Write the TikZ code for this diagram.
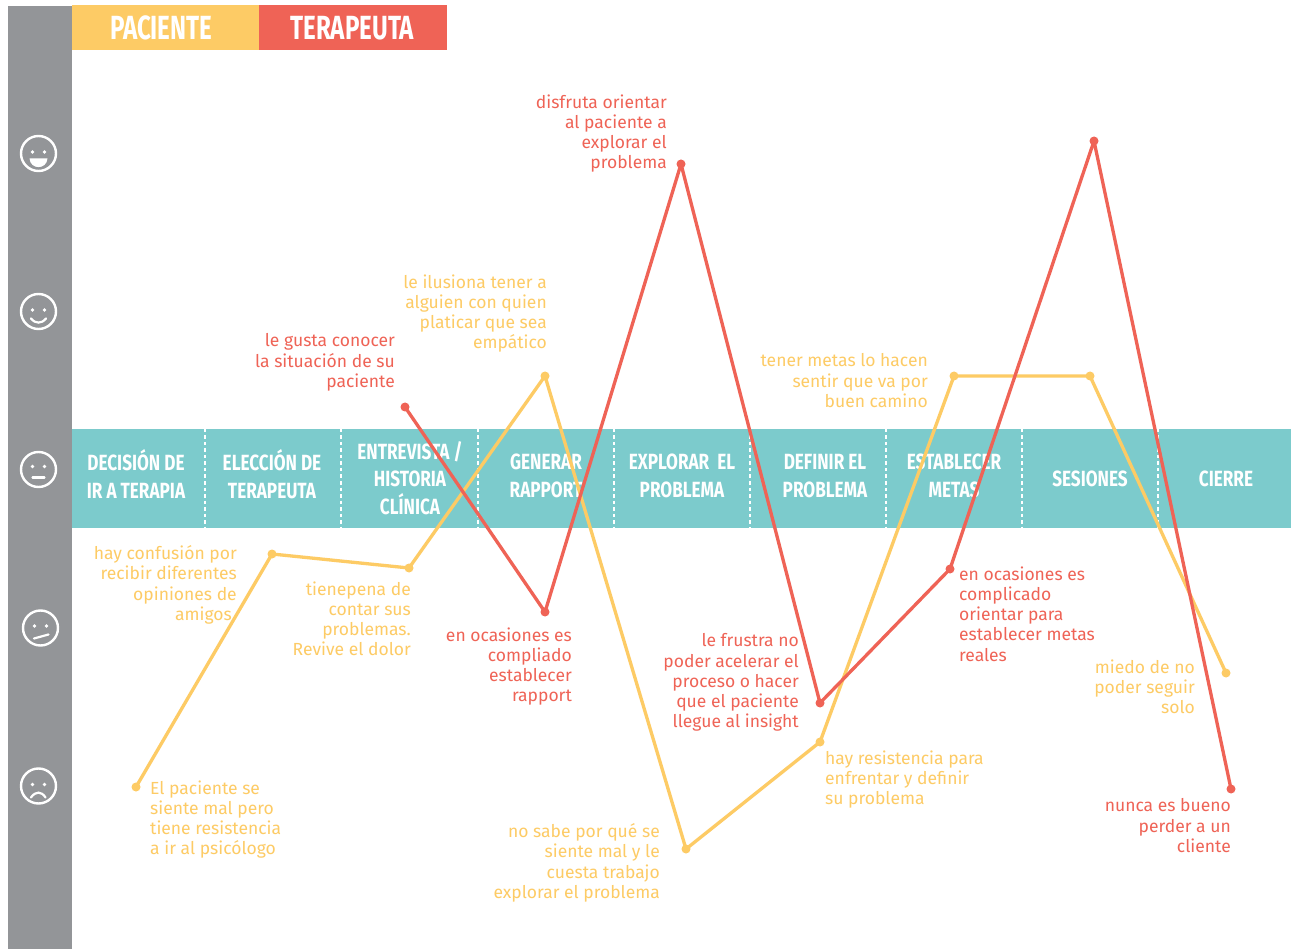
\documentclass[tikz,border=0pt]{standalone}
\usepackage{fontspec}
\usetikzlibrary{calc}
\setmainfont{Fira Sans}
\newfontfamily\headfont[FakeStretch=0.72,UprightFont=* Bold]{Fira Sans}
\newfontfamily\bandfont[FakeStretch=0.78,UprightFont=* Bold]{Fira Sans}
\definecolor{pac}{HTML}{FDCB65}
\definecolor{ter}{HTML}{EF6356}
\definecolor{teal}{HTML}{7CCBCC}
\definecolor{bar}{HTML}{939598}
\tikzset{
  x=1pt,y=-1pt,
  band/.style={font=\bandfont\fontsize{22}{27.5}\selectfont,text=white,align=center,inner sep=0pt},
  hdr/.style={font=\headfont\fontsize{33.5}{38}\selectfont,text=white,inner sep=0pt},
  lbl/.style={font=\fontsize{17.5}{20.2}\selectfont,inner sep=0pt,yshift=-1.5pt},
  rlab/.style={lbl,align=right,anchor=north east},
  llab/.style={lbl,align=left,anchor=north west},
  pt/.style={circle,inner sep=0pt,minimum size=9pt},
  ypt/.style={pt,fill=pac},
  tpt/.style={pt,fill=ter},
  yline/.style={draw=pac,line width=3.3pt,line join=round},
  tline/.style={draw=ter,line width=3.3pt,line join=round},
  sep/.style={draw=white,line width=1.6pt,dash pattern=on 3.5pt off 3pt},
  face/.style={circle,draw=white,line width=2.4pt,minimum size=35pt,inner sep=0pt},
  fline/.style={draw=white,line width=2.2pt,line cap=round},
  eye/.style={fill=white}
}
\newcommand{\faceeyes}[2]{\fill[eye] ($(#1)+(-6,#2)$) circle (1.9pt) ($(#1)+(6,#2)$) circle (1.9pt);}
\begin{document}
\begin{tikzpicture}
\useasboundingbox (0,0) rectangle (1291,949);
\fill[white] (0,0) rectangle (1291,949);
% side bar and band
\node[fill=bar,minimum width=64pt,minimum height=943pt,inner sep=0pt,anchor=north west] (sidebar) at (8,6) {};
\node[fill=teal,minimum width=1219pt,minimum height=99pt,inner sep=0pt,anchor=north west] (stageband) at (72,429) {};
% header
\node[fill=pac,minimum width=187pt,minimum height=45pt,inner sep=0pt,anchor=north west,hdr] (hpac) at (72,5) {PACIENTE\hspace*{9pt}};
\node[fill=ter,minimum width=188pt,minimum height=45pt,inner sep=0pt,anchor=north west,hdr] (hter) at (259,5) {TERAPEUTA\hspace*{2pt}};
% separators
\foreach \xx in {205,341,478,614,750,886,1022,1158}{\draw[sep] (\xx,429) -- (\xx,528);}
% stages
\node[band] (s1) at (136,474) {DECISIÓN DE\\IR A TERAPIA};
\node[band] (s2) at (272,474) {ELECCIÓN DE\\TERAPEUTA};
\node[band] (s3) at (410,478) {ENTREVISTA /\\HISTORIA\\CLÍNICA};
\node[band] (s4) at (546,476) {GENERAR\\RAPPORT};
\node[band] (s5) at (682,476) {EXPLORAR\ \ EL\\PROBLEMA};
\node[band] (s6) at (825,476) {DEFINIR EL\\PROBLEMA};
\node[band] (s7) at (954,476) {ESTABLECER\\METAS};
\node[band] (s8) at (1090,479) {SESIONES};
\node[band] (s9) at (1226,479) {CIERRE};
% faces
\node[face] (f1) at (38.5,153.5) {};
\node[face] (f2) at (38.5,311.5) {};
\node[face] (f3) at (38.5,469.5) {};
\node[face] (f4) at (40.5,628) {};
\node[face] (f5) at (38.5,786) {};
\faceeyes{f1}{-1.5}\faceeyes{f2}{-1.5}\faceeyes{f3}{-3}\faceeyes{f4}{-2}\faceeyes{f5}{-1.5}
\fill[white] ($(f1)+(-9,5)$) -- ($(f1)+(9,5)$) .. controls ($(f1)+(8,16.5)$) and ($(f1)+(-8,16.5)$) .. ($(f1)+(-9,5)$) -- cycle;
\draw[fline] ($(f2)+(-7.5,7)$) .. controls ($(f2)+(-3,12.5)$) and ($(f2)+(3,12.5)$) .. ($(f2)+(7.5,7)$);
\draw[fline] ($(f3)+(-6,8)$) -- ($(f3)+(6,8)$);
\draw[fline] ($(f4)+(-6.5,10.5)$) -- ($(f4)+(8,6.5)$);
\draw[fline] ($(f5)+(-7.5,11.5)$) .. controls ($(f5)+(-3,5)$) and ($(f5)+(3,5)$) .. ($(f5)+(7,11.5)$);
% labels
\node[rlab,text=ter] (t1) at (667,93) {disfruta orientar\\al paciente a\\explorar el\\problema};
\node[rlab,text=pac] (t2) at (547,273) {le ilusiona tener a\\alguien con quien\\platicar que sea\\empático};
\node[rlab,text=ter] (t3) at (395,332) {le gusta conocer\\la situación de su\\paciente};
\node[rlab,text=pac] (t4) at (928,352) {tener metas lo hacen\\sentir que va por\\buen camino};
\node[rlab,text=pac] (t5) at (237,544) {hay confusión por\\recibir diferentes\\opiniones de\\amigos\hspace*{5pt}};
\node[rlab,text=pac] (t6) at (411,580) {tienepena de\\contar sus\\problemas.\\Revive el dolor};
\node[rlab,text=ter] (t7) at (572,626) {en ocasiones es\\compliado\\establecer\\rapport};
\node[rlab,text=ter] (t8) at (799,632) {le frustra no\\poder acelerar el\\proceso o hacer\\que el paciente\\llegue al insight};
\node[llab,text=ter] (t9) at (959,565) {en ocasiones es\\complicado\\orientar para\\establecer metas\\reales};
\node[rlab,text=pac] (t10) at (1195,658) {miedo de no\\poder seguir\\solo};
\node[llab,text=pac] (t11) at (825,749) {hay resistencia para\\enfrentar y definir\\su problema};
\node[llab,text=pac] (t12) at (150,779) {El paciente se\\siente mal pero\\tiene resistencia\\a ir al psicólogo};
\node[rlab,text=pac] (t13) at (660,822) {no sabe por qué se\\siente mal y le\\cuesta trabajo\\explorar el problema};
\node[rlab,text=ter] (t14) at (1231,797) {nunca es bueno\\perder a un\\cliente};
% curves
\node[ypt] (y1) at (136,787) {};
\node[ypt] (y2) at (272,554) {};
\node[ypt] (y3) at (409,568) {};
\node[ypt] (y4) at (545,376) {};
\node[ypt] (y5) at (686,849) {};
\node[ypt] (y6) at (820,742) {};
\node[ypt] (y7) at (954,376) {};
\node[ypt] (y8) at (1090,376) {};
\node[ypt] (y9) at (1226,673) {};
\node[tpt] (r1) at (405,407) {};
\node[tpt] (r2) at (545,612) {};
\node[tpt] (r3) at (681,164) {};
\node[tpt] (r4) at (820,703) {};
\node[tpt] (r5) at (950,569) {};
\node[tpt] (r6) at (1094,141) {};
\node[tpt] (r7) at (1231,789) {};
\draw[yline] (y1.center) -- (y2.center) -- (y3.center) -- (y4.center) -- (y5.center) -- (y6.center) -- (y7.center) -- (y8.center) -- (y9.center);
\draw[tline] (r1.center) -- (r2.center) -- (r3.center) -- (r4.center) -- (r5.center) -- (r6.center) -- (r7.center);
\end{tikzpicture}
\end{document}
